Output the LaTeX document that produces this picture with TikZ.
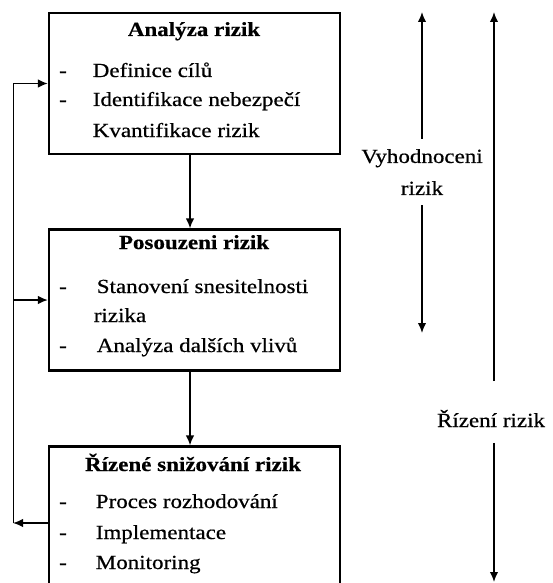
\documentclass[tikz,border=0pt]{standalone}
\usepackage{fontspec}
\setmainfont{Liberation Serif}[FakeStretch=1.15, FakeBold=0.6]
\usetikzlibrary{arrows.meta}

\begin{document}
\begin{tikzpicture}[
            x = 1pt, y = -1pt, % pixel units, y grows downwards
            > = {Latex[length=10pt, width=8.5pt]}, % arrow head style
            font = \fontsize{20}{24}\selectfont,
            line width = 1.6pt % line style
        ]

        \tikzstyle{box}=[
            draw = black,
            line width = 2.2pt,
            minimum width = 291pt,
            minimum height = 141pt,
            inner sep = 0pt
        ]
        \tikzstyle{title}=[font = \fontsize{20}{24}\selectfont\bfseries, anchor = base]
        \tikzstyle{item}=[anchor = base west, inner sep = 0pt]
        \tikzstyle{bullet}=[anchor = base, inner sep = 0pt]

	\clip (0,0) rectangle (553,583);

	\node[box] (box1) at (194.5,83.5) {};
	\node[box] (box2) at (194.5,300) {};
	\node[box] (box3) at (194.5,517) {};

	% first box
	\node[title] (t1) at (194,36) {Analýza rizik};
	\node[bullet] (d11) at (63,77) {-};
	\node[item] (i11) at (92,77) {Definice cílů};
	\node[bullet] (d12) at (63,106) {-};
	\node[item] (i12) at (92,106) {Identifikace nebezpečí};
	\node[item] (i13) at (92,137) {Kvantifikace rizik};

	% second box
	\node[title] (t2) at (194,249) {Posouzeni rizik};
	\node[bullet] (d21) at (63,293) {-};
	\node[item] (i21) at (96,293) {Stanovení snesitelnosti};
	\node[item] (i22) at (93,322) {rizika};
	\node[bullet] (d23) at (63,352) {-};
	\node[item] (i23) at (96,352) {Analýza dalších vlivů};

	% third box
	\node[title] (t3) at (193,471) {Řízené snižování rizik};
	\node[bullet] (d31) at (63,508) {-};
	\node[item] (i31) at (95,508) {Proces rozhodování};
	\node[bullet] (d32) at (63,539) {-};
	\node[item] (i32) at (95,539) {Implementace};
	\node[bullet] (d33) at (63,569) {-};
	\node[item] (i33) at (95,569) {Monitoring};

	\draw[->] ([xshift=-4.5pt]box1.south) -- ([xshift=-4.5pt]box2.north);
	\draw[->] ([xshift=-4.5pt]box2.south) -- ([xshift=-4.5pt]box3.north);

	% feedback loop
	\coordinate (fb1) at (13,83.5);
	\coordinate (fb2) at (13,300);
	\coordinate (fb3) at (13,523);
	\draw[->] (box3.west |- fb3) -- (fb3);
	\draw[line width=1pt] (fb3) -- (fb1);
	\draw[->] (fb1) -- (box1.west);
	\draw[->] (fb2) -- (box2.west);

	% ranges on the right
	\coordinate (vtop) at (422,12);
	\coordinate (vbot) at (422,333);
	\node[align=center, font=\fontsize{20}{32}\selectfont, inner xsep=0pt, inner ysep=9.5pt] (vyh) at (422,172) {Vyhodnoceni\\rizik};
	\draw[->] (vyh) -- (vtop);
	\draw[->] (vyh) -- (vbot);

	\coordinate (rtop) at (494,12);
	\coordinate (rbot) at (494,582);
	\node[anchor=base, text height=35pt, text depth=5pt, inner xsep=0pt, inner ysep=10pt] (riz) at (491,427) {Řízení rizik};
	\draw[->] (riz.north -| rtop) -- (rtop);
	\draw[->] (riz.south -| rbot) -- (rbot);

\end{tikzpicture}
\end{document}
